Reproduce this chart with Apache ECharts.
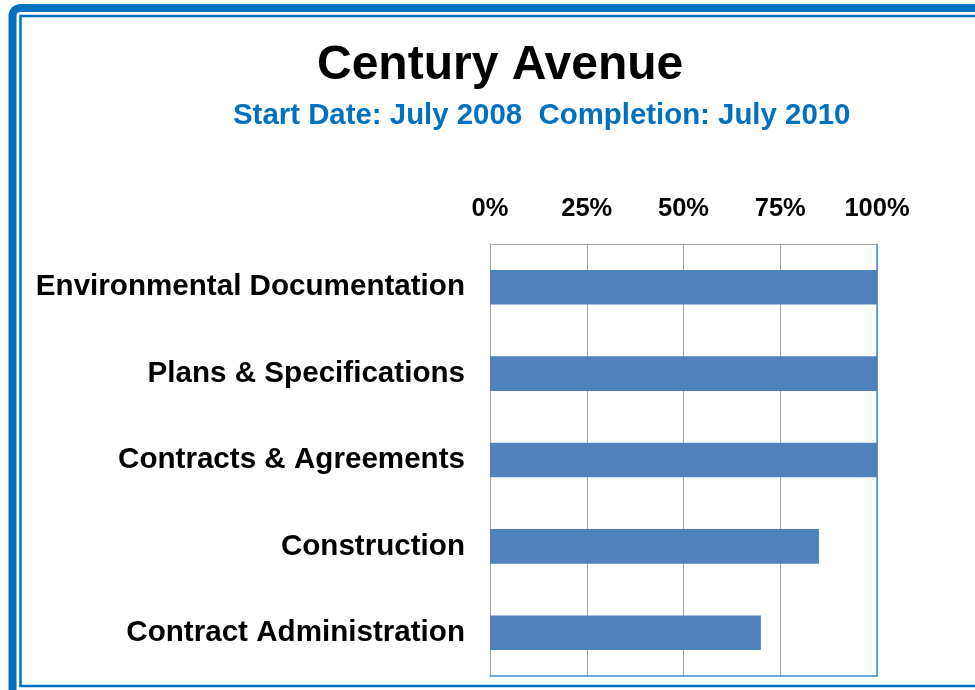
<!DOCTYPE html>
<html>
<head>
<meta charset="utf-8">
<title>Century Avenue</title>
<script src="https://cdn.jsdelivr.net/npm/echarts@6/dist/echarts.min.js"></script>
<style>
  html, body { margin: 0; padding: 0; background: #fff; }
  #main { width: 975px; height: 690px; }
</style>
</head>
<body>
<div id="main"></div>
<script>
var categories = ['Environmental Documentation', 'Plans & Specifications', 'Contracts & Agreements', 'Construction', 'Contract Administration'];
var percentComplete = [100, 100, 100, 85, 70];
var tickValues = [0, 25, 50, 75, 100];

var fontFamily = '"Liberation Sans", Arial, sans-serif';
var frameBlue = '#0070C0';
var barBlue = '#4F81BD';
var gridGray = '#A6A6A6';

var chart = echarts.init(document.getElementById('main'), null, {renderer: 'canvas'});
var option = {
    backgroundColor: '#fff',
    animation: false,
    title: [
        {
            text: 'Century Avenue',
            left: 312,
            top: 37,
            textStyle: {color: '#000', fontSize: 48, fontWeight: 'bold', fontFamily: fontFamily}
        },
        {
            text: 'Start Date: July 2008  Completion: July 2010',
            left: 228,
            top: 96,
            textStyle: {color: frameBlue, fontSize: 29.4, fontWeight: 'bold', fontFamily: fontFamily}
        }
    ],
    graphic: [
        // outer thick frame (runs off the right and bottom)
        {
            type: 'rect',
            shape: {x: 12.5, y: 8, width: 1000, height: 720, r: 8},
            style: {fill: 'none', stroke: frameBlue, lineWidth: 8}
        },
        // inner thin frame
        {
            type: 'rect',
            shape: {x: 20.5, y: 16, width: 1000, height: 670},
            style: {fill: 'none', stroke: frameBlue, lineWidth: 2.5}
        }
    ],
    grid: {
        left: 490,
        top: 244,
        width: 387,
        height: 432
    },
    xAxis: [
        {
            type: 'value',
            position: 'top',
            min: 0,
            max: 100,
            interval: 25,
            axisLine: {show: true, lineStyle: {color: gridGray, width: 1}},
            axisTick: {show: false},
            axisLabel: {
                margin: 22,
                color: '#000',
                fontSize: 25.5,
                fontWeight: 'bold',
                fontFamily: fontFamily,
                formatter: function(v) { return tickValues.indexOf(v) >= 0 ? v + '%' : ''; }
            },
            splitLine: {show: true, lineStyle: {color: gridGray, width: 1}}
        },
        {
            type: 'value',
            position: 'bottom',
            min: 0,
            max: 100,
            axisLine: {show: true, onZero: false, lineStyle: {color: '#3F8FD8', width: 1.5}},
            axisTick: {show: false},
            axisLabel: {show: false},
            splitLine: {show: false}
        }
    ],
    yAxis: [
        {
            type: 'category',
            inverse: true,
            data: categories,
            axisLine: {show: true, onZero: false, lineStyle: {color: gridGray, width: 1}},
            axisTick: {show: false},
            axisLabel: {
                margin: 25,
                color: '#000',
                fontSize: 29.6,
                fontWeight: 'bold',
                fontFamily: fontFamily,
                padding: [4, 0, 0, 0]
            }
        },
        {
            type: 'category',
            position: 'right',
            inverse: true,
            data: categories,
            axisLine: {show: true, onZero: false, lineStyle: {color: '#3F8FD8', width: 1.5}},
            axisTick: {show: false},
            axisLabel: {show: false}
        }
    ],
    series: [
        {
            type: 'bar',
            data: percentComplete,
            barWidth: '40%',
            itemStyle: {color: barBlue},
            z: 1
        }
    ]
};
chart.setOption(option);
</script>
</body>
</html>
